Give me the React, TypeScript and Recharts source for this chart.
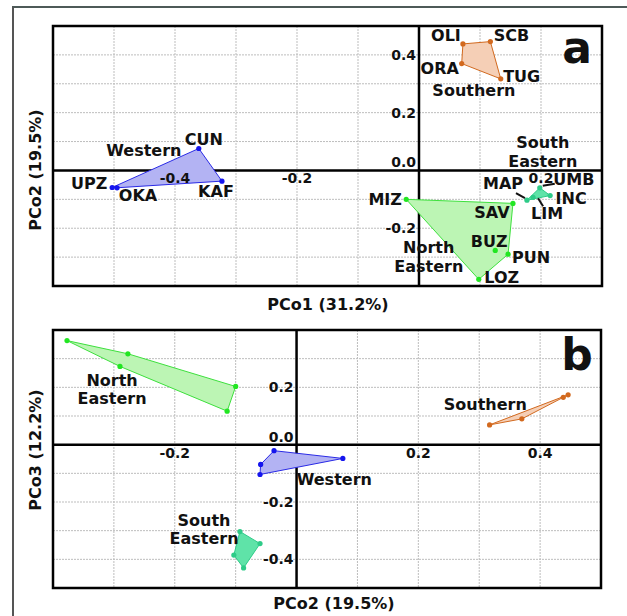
import React from 'react';
import { ScatterChart, Scatter, XAxis, YAxis, CartesianGrid, ReferenceLine, ReferenceArea, Polygon } from 'recharts';

// sampled sites, grouped by region
const westernSites = ['UPZ', 'OKA', 'KAF', 'CUN'];
const westernPc1 = [-0.503, -0.495, -0.323, -0.361];
const westernPc2 = [-0.059, -0.060, -0.037, 0.076];
const westernPc3 = [-0.069, -0.104, -0.021, -0.048];

const southernSites = ['OLI', 'SCB', 'TUG', 'ORA'];
const southernPc1 = [0.072, 0.117, 0.134, 0.070];
const southernPc2 = [0.438, 0.446, 0.317, 0.370];
const southernPc3 = [0.165, 0.174, 0.069, 0.090];

const northEasternSites = ['MIZ', 'SAV', 'BUZ', 'PUN', 'LOZ'];
const northEasternPc1 = [-0.021, 0.154, 0.125, 0.146, 0.098];
const northEasternPc2 = [-0.100, -0.114, -0.277, -0.290, -0.377];
const northEasternPc3 = [0.203, 0.117, 0.317, 0.273, 0.363];

const southEasternSites = ['MAP', 'UMB', 'INC', 'LIM'];
const southEasternPc1 = [0.177, 0.198, 0.215, 0.187];
const southEasternPc2 = [-0.103, -0.060, -0.087, -0.093];
const southEasternPc3 = [-0.385, -0.345, -0.430, -0.303];

// axes
const gridA_x = [-0.6, -0.5, -0.4, -0.3, -0.2, -0.1, 0, 0.1, 0.2, 0.3];
const gridA_y = [-0.4, -0.3, -0.2, -0.1, 0, 0.1, 0.2, 0.3, 0.4, 0.5];
const ticksA_x = [-0.4, -0.2, 0.2];
const ticksA_y = [-0.2, 0, 0.2, 0.4];

const gridB_x = [-0.4, -0.3, -0.2, -0.1, 0, 0.1, 0.2, 0.3, 0.4, 0.5];
const gridB_y = [-0.5, -0.4, -0.3, -0.2, -0.1, 0, 0.1, 0.2, 0.3, 0.4];
const ticksB_x = [-0.2, 0.2, 0.4];
const ticksB_y = [-0.4, -0.2, 0, 0.2];

// region name annotations
const regionTextA = ['Western', 'Southern', 'South', 'Eastern', 'North', 'Eastern'];
const regionXA = [-0.451, 0.09, 0.203, 0.203, 0.016, 0.016];
const regionYA = [0.069, 0.276, 0.097, 0.031, -0.266, -0.331];

const regionTextB = ['North', 'Eastern', 'Southern', 'Western', 'South', 'Eastern'];
const regionXB = [-0.303, -0.303, 0.310, 0.062, -0.152, -0.152];
const regionYB = [0.224, 0.162, 0.141, -0.121, -0.266, -0.328];

// label placement (pixel offsets from the point)
const labelOffset: Record<string, [number, number]> = {
  OLI: [-17, -8], SCB: [21, -6], ORA: [-22, 5], TUG: [21, -2],
  CUN: [5, -9], UPZ: [-23, -4], OKA: [21, 8], KAF: [-6, 10],
  MIZ: [-21, 0], SAV: [-21, 9], BUZ: [-6, -9], PUN: [23, 3], LOZ: [23, -2],
  MAP: [-24, -17], UMB: [34, -8], INC: [21, 3], LIM: [14, 16],
};
const leader: Record<string, [number, number, number, number]> = {
  MAP: [-11, -7, -2, -2],
  UMB: [3, -2, 15, -4],
  LIM: [5, 1, 10, 9],
};

const FONT = '"DejaVu Sans", Verdana, sans-serif';

type Pt = { x: number; y: number };

function hull(pts: Pt[]): Pt[] {
  const p = [...pts].sort((a, b) => a.x - b.x || a.y - b.y);
  if (p.length < 3) return p;
  const cross = (o: Pt, a: Pt, b: Pt) => (a.x - o.x) * (b.y - o.y) - (a.y - o.y) * (b.x - o.x);
  const lower: Pt[] = [];
  for (const q of p) {
    while (lower.length >= 2 && cross(lower[lower.length - 2], lower[lower.length - 1], q) <= 0) lower.pop();
    lower.push(q);
  }
  const upper: Pt[] = [];
  for (const q of [...p].reverse()) {
    while (upper.length >= 2 && cross(upper[upper.length - 2], upper[upper.length - 1], q) <= 0) upper.pop();
    upper.push(q);
  }
  lower.pop();
  upper.pop();
  return lower.concat(upper);
}

const groups = [
  { name: 'Southern', sites: southernSites, pc1: southernPc1, pc2: southernPc2, pc3: southernPc3, stroke: '#d2691e', fill: '#f5cfb6', dot: '#d2691e' },
  { name: 'Western', sites: westernSites, pc1: westernPc1, pc2: westernPc2, pc3: westernPc3, stroke: '#2a2ae6', fill: '#b3b3f3', dot: '#1515ee' },
  { name: 'North Eastern', sites: northEasternSites, pc1: northEasternPc1, pc2: northEasternPc2, pc3: northEasternPc3, stroke: '#3ee03e', fill: '#bcf5b4', dot: '#22e622' },
  { name: 'South Eastern', sites: southEasternSites, pc1: southEasternPc1, pc2: southEasternPc2, pc3: southEasternPc3, stroke: '#2ecb88', fill: '#5fe3a8', dot: '#2ecb88' },
];

const hullLine = (stroke: string, fill: string) => (props: any) =>
  <Polygon points={hull(props.points || [])} stroke={stroke} strokeWidth={1} fill={fill} />;

const pointShape = (color: string, withLabels: boolean) => (props: any) => {
  const { cx, cy, payload } = props;
  const off = withLabels ? labelOffset[payload.site] : undefined;
  const ld = withLabels ? leader[payload.site] : undefined;
  return (
    <g>
      {ld && <line x1={cx + ld[0]} y1={cy + ld[1]} x2={cx + ld[2]} y2={cy + ld[3]} stroke="#111" strokeWidth={2} />}
      <circle cx={cx} cy={cy} r={2.6} fill={color} />
      {off && (
        <text x={cx + off[0]} y={cy + off[1]} textAnchor="middle" dominantBaseline="central"
          fontFamily={FONT} fontWeight="bold" fontSize={16} fill="#111">{payload.site}</text>
      )}
    </g>
  );
};

const yTickShape = (props: any) => (
  <text x={props.cx - 3} y={props.cy + (props.payload.y === 0 ? -8 : 0)} textAnchor="end" dominantBaseline="central"
    fontFamily={FONT} fontWeight="bold" fontSize={14} fill="#111">{props.payload.text}</text>
);
const xTickShape = (props: any) => (
  <text x={props.cx} y={props.cy + 8} textAnchor="middle" dominantBaseline="central"
    fontFamily={FONT} fontWeight="bold" fontSize={14} fill="#111">{props.payload.text}</text>
);
const regionShape = (props: any) => (
  <text x={props.cx} y={props.cy} textAnchor="middle" dominantBaseline="central"
    fontFamily={FONT} fontWeight="bold" fontSize={16} fill="#111">{props.payload.text}</text>
);

interface PanelProps {
  xKey: 'pc1' | 'pc2';
  yKey: 'pc2' | 'pc3';
  gridX: number[];
  gridY: number[];
  ticksX: number[];
  ticksY: number[];
  regionText: string[];
  regionX: number[];
  regionY: number[];
  withLabels: boolean;
  height: number;
  margin: { top: number; right: number; bottom: number; left: number };
}

function Panel(p: PanelProps) {
  const x0 = p.gridX[0], x1 = p.gridX[p.gridX.length - 1];
  const y0 = p.gridY[0], y1 = p.gridY[p.gridY.length - 1];
  return (
    <ScatterChart width={627} height={p.height} margin={p.margin}>
      <XAxis type="number" dataKey="x" domain={[x0, x1]} ticks={p.gridX} hide allowDataOverflow />
      <YAxis type="number" dataKey="y" domain={[y0, y1]} ticks={p.gridY} hide allowDataOverflow />
      <CartesianGrid stroke="#bdbdbd" strokeDasharray="2 1" />
      {groups.map(g => (
        <Scatter
          key={g.name}
          data={g.sites.map((s, i) => ({ site: s, x: g[p.xKey][i], y: g[p.yKey][i] }))}
          line={hullLine(g.stroke, g.fill)}
          lineType="joint"
          shape={pointShape(g.dot, p.withLabels)}
          isAnimationActive={false}
        />
      ))}
      <ReferenceLine x={0} stroke="#000" strokeWidth={2.5} />
      <ReferenceLine y={0} stroke="#000" strokeWidth={2.5} />
      <ReferenceArea x1={x0} x2={x1} y1={y0} y2={y1} fill="none" fillOpacity={0} stroke="#000" strokeWidth={2.5} />
      <Scatter data={p.ticksY.map(v => ({ x: 0, y: v, text: v.toFixed(1) }))} shape={yTickShape} isAnimationActive={false} />
      <Scatter data={p.ticksX.map(v => ({ x: v, y: 0, text: v.toFixed(1) }))} shape={xTickShape} isAnimationActive={false} />
      <Scatter data={p.regionText.map((t, i) => ({ x: p.regionX[i], y: p.regionY[i], text: t }))} shape={regionShape} isAnimationActive={false} />
    </ScatterChart>
  );
}

const titleStyle: React.CSSProperties = { fontFamily: FONT, fontWeight: 'bold', fill: '#111' } as any;

export default function App() {
  return (
    <div style={{ position: 'absolute', left: 0, top: 0, width: 627, height: 616, background: '#fff', overflow: 'hidden' }}>
      <div style={{ position: 'absolute', left: 12, top: 6, width: 640, height: 640, borderLeft: '2px solid #555', borderTop: '2px solid #4d5a58' }} />
      <div style={{ position: 'absolute', left: 0, top: 0 }}>
        <Panel xKey="pc1" yKey="pc2" gridX={gridA_x} gridY={gridA_y} ticksX={ticksA_x} ticksY={ticksA_y}
          regionText={regionTextA} regionX={regionXA} regionY={regionYA} withLabels height={300}
          margin={{ top: 26, right: 25, bottom: 14, left: 53 }} />
      </div>
      <div style={{ position: 'absolute', left: 0, top: 300 }}>
        <Panel xKey="pc2" yKey="pc3" gridX={gridB_x} gridY={gridB_y} ticksX={ticksB_x} ticksY={ticksB_y}
          regionText={regionTextB} regionX={regionXB} regionY={regionYB} withLabels={false} height={316}
          margin={{ top: 30, right: 26, bottom: 28, left: 53 }} />
      </div>
      <svg width={627} height={616} style={{ position: 'absolute', left: 0, top: 0, pointerEvents: 'none' }}>
        <text x={328} y={304} textAnchor="middle" dominantBaseline="central" fontSize={16} style={titleStyle}>PCo1 (31.2%)</text>
        <text x={334} y={603} textAnchor="middle" dominantBaseline="central" fontSize={16} style={titleStyle}>PCo2 (19.5%)</text>
        <text transform="translate(35,170) rotate(-90)" textAnchor="middle" dominantBaseline="central" fontSize={16} style={titleStyle}>PCo2 (19.5%)</text>
        <text transform="translate(35,450) rotate(-90)" textAnchor="middle" dominantBaseline="central" fontSize={16} style={titleStyle}>PCo3 (12.2%)</text>
        <text x={577} y={63} textAnchor="middle" fontSize={44} style={titleStyle}>a</text>
        <text x={577} y={370} textAnchor="middle" fontSize={44} style={titleStyle}>b</text>
      </svg>
    </div>
  );
}
